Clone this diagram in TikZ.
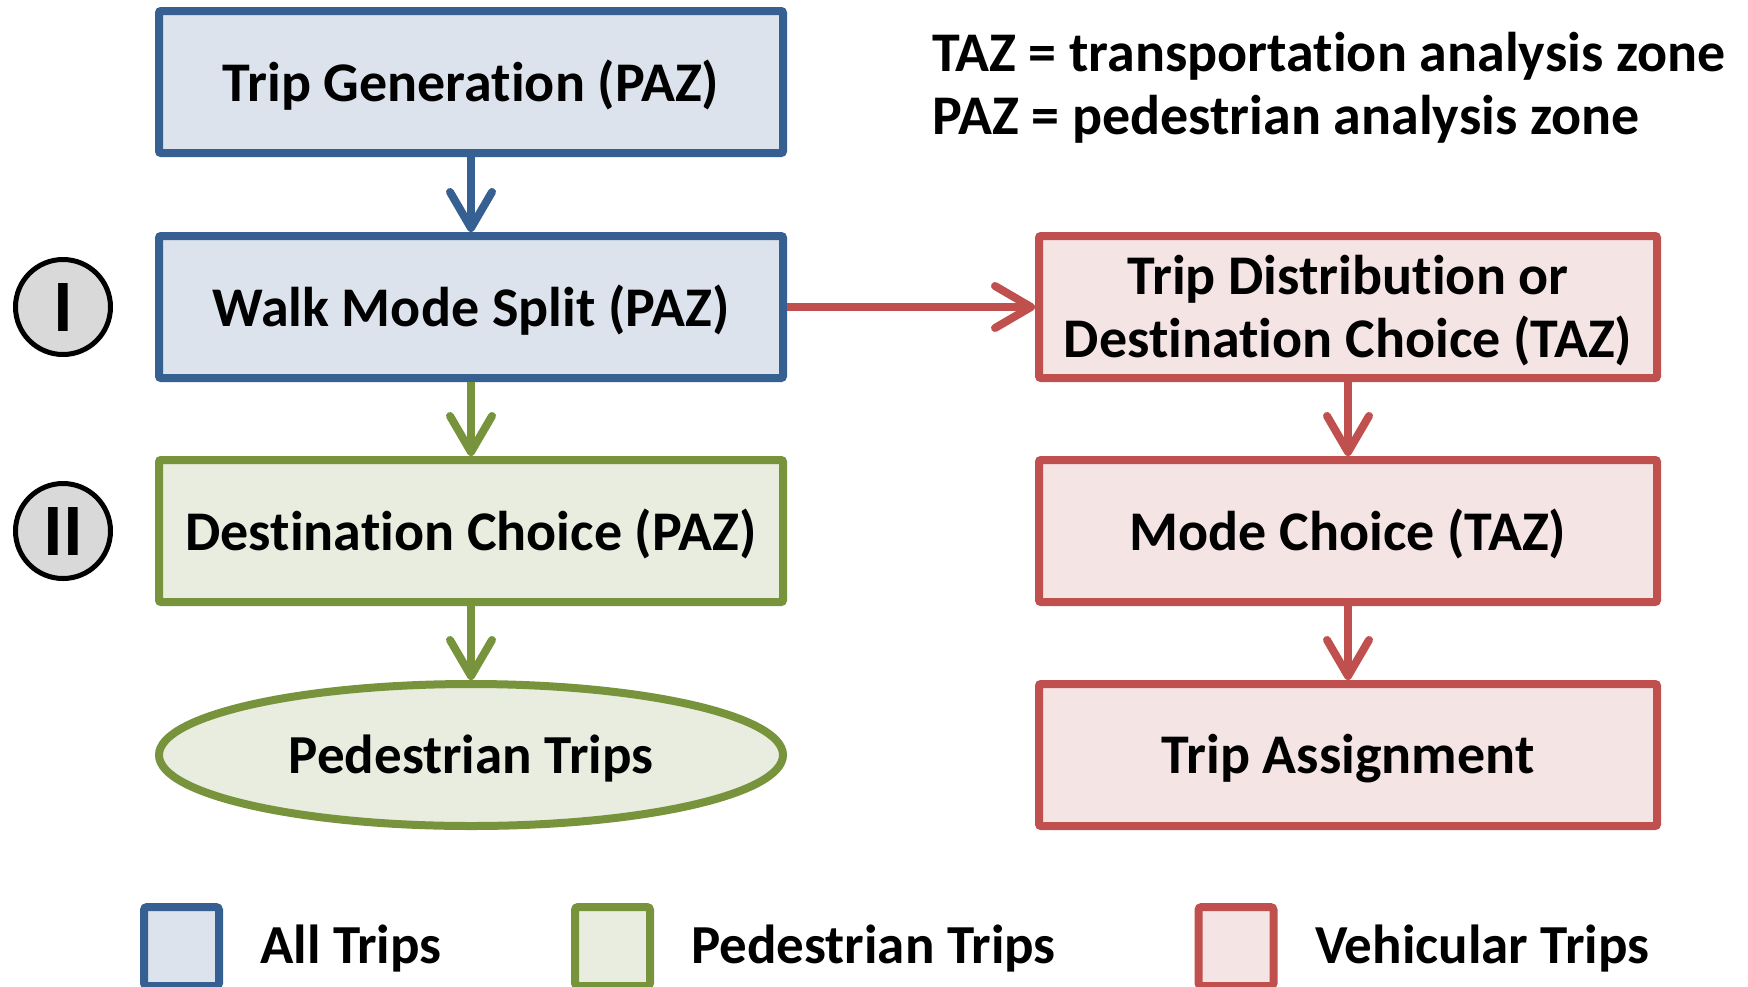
\documentclass[tikz,border=0pt]{standalone}
\usepackage{fontspec}
\setmainfont{Carlito}[Ligatures=NoCommon]
\usetikzlibrary{arrows.meta,shapes.geometric}
\definecolor{bB}{HTML}{376092}
\definecolor{bF}{HTML}{DCE3EC}
\definecolor{gB}{HTML}{77933C}
\definecolor{gF}{HTML}{E9EDE0}
\definecolor{rB}{HTML}{C0504D}
\definecolor{rF}{HTML}{F4E4E4}
\definecolor{cF}{HTML}{D9D9D9}
\tikzset{
  every node/.style={font=\fontsize{56}{62}\selectfont\bfseries, text=black},
  box/.style={rectangle, rounded corners=2pt, line width=8pt, minimum width=624pt, minimum height=142pt, inner sep=0pt, align=center, text depth=2pt},
  lbox/.style={box, minimum width=618pt},
  bluebox/.style={draw=bB, fill=bF},
  greenbox/.style={draw=gB, fill=gF},
  redbox/.style={draw=rB, fill=rF},
  conn/.style={line width=8pt, -{Straight Barb[length=36pt,width=42pt,round]}},
  circ/.style={circle, draw=black, fill=cF, line width=5pt, minimum size=95pt, inner sep=0pt, font=\fontsize{74}{74}\selectfont\bfseries},
  legsq/.style={rectangle, rounded corners=3pt, line width=8pt, minimum width=75pt, minimum height=79pt, inner sep=0pt},
  legtext/.style={anchor=west, inner sep=0pt, font=\fontsize{55}{60}\selectfont\bfseries},
}
\begin{document}
\begin{tikzpicture}[x=1pt, y=-1pt]
\clip (0,0) rectangle (1748,986);
\useasboundingbox (0,0) rectangle (1748,986);
% left column
\node[box, bluebox] (tg) at (471,82) {Trip Generation (PAZ)};
\node[box, bluebox] (wms) at (471,307) {Walk Mode Split (PAZ)};
\node[box, greenbox] (dc) at (471,531) {Destination Choice (PAZ)};
\node[ellipse, draw=gB, fill=gF, line width=8pt, minimum width=624pt, minimum height=142pt, inner sep=0pt, text depth=2pt, font=\fontsize{55}{60}\selectfont\bfseries] (pt) at (471,755) {Pedestrian Trips};
% right column
\node[lbox, redbox, font=\fontsize{56}{63}\selectfont\bfseries] (td) at (1348,307) {Trip Distribution or\\Destination Choice (TAZ)};
\node[lbox, redbox] (mc) at (1348,531) {Mode Choice (TAZ)};
\node[lbox, redbox] (ta) at (1348,755) {Trip Assignment};
% circles
\node[circ] (c1) at (63,307) {I};
\node[circ] (c2) at (63,531) {II};
% connectors
\draw[conn, draw=bB] (tg.south) -- (wms.north);
\draw[conn, draw=gB] (wms.south) -- (dc.north);
\draw[conn, draw=gB] (dc.south) -- (pt.north);
\draw[conn, draw=rB] (wms.east) -- (td.west);
\draw[conn, draw=rB] (td.south) -- (mc.north);
\draw[conn, draw=rB] (mc.south) -- (ta.north);
% key text
\node[anchor=west, inner sep=0pt] (k1) at (932,56.5) {TAZ = transportation analysis zone};
\node[anchor=west, inner sep=0pt] (k2) at (932,119.5) {PAZ = pedestrian analysis zone};
% legend
\node[legsq, draw=bB, fill=bF] (l1) at (181.5,946.5) {};
\node[legtext] (lt1) at (260,948.5) {All Trips};
\node[legsq, draw=gB, fill=gF] (l2) at (612.5,946.5) {};
\node[legtext] (lt2) at (691,948.5) {Pedestrian Trips};
\node[legsq, draw=rB, fill=rF] (l3) at (1236,946.5) {};
\node[legtext] (lt3) at (1315,948.5) {Vehicular Trips};
\end{tikzpicture}
\end{document}
